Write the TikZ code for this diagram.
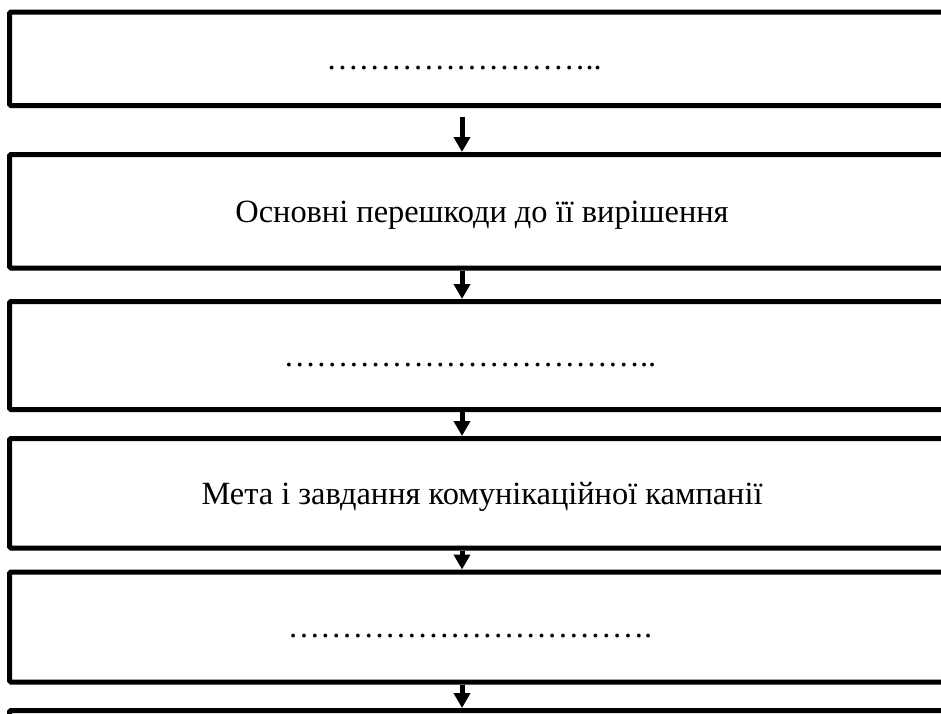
\documentclass[tikz,border=0pt]{standalone}
\usepackage{fontspec}
\setmainfont{Liberation Serif}
\usetikzlibrary{arrows.meta,calc}
\begin{document}
\begin{tikzpicture}[x=1pt,y=-1pt,
  box/.style={draw=black,line width=5pt,rounded corners=1.5pt,minimum width=945pt,inner sep=0pt,
    text height=21.5pt,text depth=0pt,font=\fontsize{32.4}{38}\selectfont},
  arr/.style={line width=5pt,-{Triangle[width=16pt,length=15pt]}}]
\useasboundingbox (0,0) rectangle (941,713);
\clip (0,0) rectangle (941,713);
\node[box,minimum height=93.5pt] (b1) at (482,58.75) {……………………..\hspace*{36pt}};
\node[box,minimum height=113.5pt] (b2) at (482,211.25) {Основні перешкоди до її вирішення};
\node[box,minimum height=108pt] (b3) at (482,355.5) {……………………………..\hspace*{24pt}};
\node[box,minimum height=109.5pt] (b4) at (482,493.25) {Мета і завдання комунікаційної кампанії};
\node[box,minimum height=110pt] (b5) at (482,627) {…………………………….\hspace*{24pt}};
\node[box,minimum height=100pt] (b6) at (482,760.5) {};
\coordinate (ax) at (462,0);
\coordinate (s1) at (462,117);
\draw[arr] (s1) -- (b2.north -| ax);
\draw[arr] (b2.south -| ax) -- (b3.north -| ax);
\draw[arr] (b3.south -| ax) -- (b4.north -| ax);
\draw[arr] (b4.south -| ax) -- (b5.north -| ax);
\draw[arr] (b5.south -| ax) -- (b6.north -| ax);
\end{tikzpicture}
\end{document}
